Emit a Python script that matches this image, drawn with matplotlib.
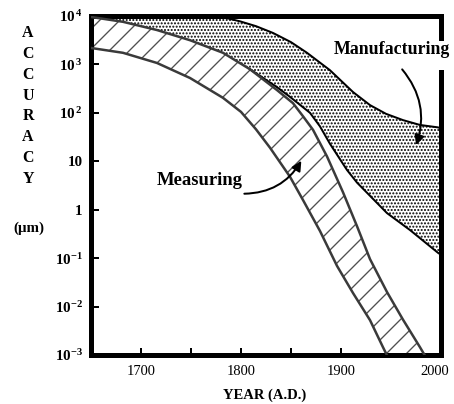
import numpy as np
import matplotlib
matplotlib.use('Agg')
from matplotlib import pyplot as plt
from matplotlib.transforms import ScaledTranslation

plt.rcParams['font.family'] = ['Liberation Serif', 'DejaVu Serif']
plt.rcParams['mathtext.fontset'] = 'custom'
plt.rcParams['mathtext.rm'] = 'Liberation Serif'
plt.rcParams['mathtext.bf'] = 'Liberation Serif:bold'
plt.rcParams['hatch.linewidth'] = 0.8

# measuring accuracy band (log10 of micrometres)
meas_up_x = [1650, 1682, 1716, 1749, 1782, 1809, 1836, 1852, 1862, 1872, 1886,
             1902, 1916, 1929, 1946, 1962, 1979, 1985]
meas_up_y = [3.98, 3.88, 3.71, 3.50, 3.24, 2.90, 2.47, 2.20, 1.93, 1.65, 1.10,
             0.36, -0.34, -1.02, -1.70, -2.27, -2.84, -3.05]
meas_lo_x = [1650, 1682, 1716, 1749, 1782, 1800, 1815, 1829, 1849, 1862, 1879,
             1896, 1912, 1929, 1942, 1947]
meas_lo_y = [3.34, 3.24, 3.03, 2.72, 2.31, 2.02, 1.66, 1.28, 0.68, 0.20, -0.44,
             -1.16, -1.72, -2.28, -2.84, -3.05]

# manufacturing accuracy band
mfg_up_x = [1650, 1750, 1770, 1785, 1799, 1815, 1832, 1850, 1866, 1889, 1912,
            1929, 1945, 1962, 1979, 1997, 2000]
mfg_up_y = [4.05, 4.05, 4.01, 3.96, 3.89, 3.79, 3.65, 3.46, 3.24, 2.88, 2.43,
            2.16, 1.98, 1.85, 1.75, 1.70, 1.68]
mfg_lo_x = [1809, 1836, 1849, 1869, 1879, 1889, 1906, 1916, 1926, 1946, 1969,
            1997, 2000]
mfg_lo_y = [2.90, 2.53, 2.33, 2.00, 1.72, 1.36, 0.82, 0.56, 0.35, -0.07, -0.42,
            -0.89, -0.93]

x_major = [1700, 1800, 1900, 2000]
x_minor = [1750, 1850, 1950]
y_ticks = [1e-3, 1e-2, 1e-1, 1, 10, 1e2, 1e3, 1e4]
y_labels = [r'$\mathbf{10^{-3}}$', r'$\mathbf{10^{-2}}$', r'$\mathbf{10^{-1}}$',
            '1', '10', r'$\mathbf{10^{\,2}}$', r'$\mathbf{10^{\,3}}$', r'$\mathbf{10^{\,4}}$']

dpi = 120
fig = plt.figure(figsize=(454 / dpi, 404 / dpi), dpi=dpi)
ax = fig.add_axes([91 / 454, 49 / 404, 350 / 454, 339 / 404])

mu = lambda v: 10 ** np.array(v, dtype=float)

# manufacturing band: upper curve, then its lower curve back, then shared edge
split = meas_up_x.index(1809)
poly_x = mfg_up_x + mfg_lo_x[::-1] + meas_up_x[:split][::-1]
poly_y = mfg_up_y + mfg_lo_y[::-1] + meas_up_y[:split][::-1]
ax.fill(poly_x, mu(poly_y), facecolor='none', edgecolor='black', hatch='......',
        linewidth=0, zorder=1)

# measuring band
poly_x = meas_up_x + meas_lo_x[::-1]
poly_y = meas_up_y + meas_lo_y[::-1]
ax.fill(poly_x, mu(poly_y), facecolor='white', edgecolor='#505050', hatch='//',
        linewidth=0, zorder=2)

ax.plot(mfg_up_x, mu(mfg_up_y), color='black', lw=1.2, zorder=3)
ax.plot(mfg_lo_x, mu(mfg_lo_y), color='black', lw=1.2, zorder=3)
ax.plot(meas_up_x, mu(meas_up_y), color='#3a3a3a', lw=1.5, zorder=4)
ax.plot(meas_lo_x, mu(meas_lo_y), color='#3a3a3a', lw=1.5, zorder=4)

ax.set_yscale('log')
ax.set_xlim(1650, 2000)
ax.set_ylim(1e-3, 1e4)
ax.set_xticks(x_major)
ax.set_xticks(x_minor, minor=True)
ax.set_yticks(y_ticks)
ax.set_yticklabels(y_labels, fontweight='bold', fontsize=9)
ax.yaxis.set_minor_locator(matplotlib.ticker.NullLocator())
ax.tick_params(axis='both', which='both', direction='in', length=4.5, width=1.2,
               top=False, right=False)
ax.tick_params(axis='y', pad=5)
ax.tick_params(axis='x', pad=6, labelsize=8.7)
# last year label sits a little left of its tick, as in the original
last = ax.get_xticklabels()[-1]
last.set_transform(last.get_transform() + ScaledTranslation(-6 / dpi, 0, fig.dpi_scale_trans))

for side in ['left', 'top', 'bottom']:
    ax.spines[side].set_linewidth(3)
ax.spines['right'].set_visible(False)
# right frame line is broken where the label sits
ax.plot([1, 1], [0, 0.835], transform=ax.transAxes, color='black', lw=3,
        clip_on=False, solid_capstyle='projecting', zorder=5)
ax.plot([1, 1], [0.935, 1], transform=ax.transAxes, color='black', lw=3,
        clip_on=False, solid_capstyle='projecting', zorder=5)

ax.text(1759, 10 ** 0.61, 'Measuring', fontsize=11.2, fontweight='bold',
        ha='center', va='center')
ax.annotate('', xy=(1862, 10 ** 1.07), xytext=(1800, 10 ** 0.33),
            arrowprops=dict(arrowstyle='-|>', connectionstyle='arc3,rad=0.3',
                            lw=1.2, color='black', mutation_scale=12), zorder=6)
ax.text(1951, 10 ** 3.30, 'Manufacturing', fontsize=10.7, fontweight='bold',
        ha='center', va='center')
ax.annotate('', xy=(1974, 10 ** 1.27), xytext=(1959, 10 ** 2.95),
            arrowprops=dict(arrowstyle='-|>', connectionstyle='arc3,rad=-0.3',
                            lw=1.2, color='black', mutation_scale=12), zorder=6)

fig.text(28 / 454, 1 - 106 / 404, '\n'.join('ACCURACY'), fontsize=9.5,
         fontweight='bold', ha='center', va='center', linespacing=1.4)
fig.text(29 / 454, 1 - 228 / 404, '(\u03bcm)', fontsize=9, fontweight='bold',
         ha='center', va='center')
fig.text(265 / 454, 1 - 395 / 404, 'YEAR (A.D.)', fontsize=8.8, fontweight='bold',
         ha='center', va='center')

fig.savefig('out.png', dpi=dpi)
